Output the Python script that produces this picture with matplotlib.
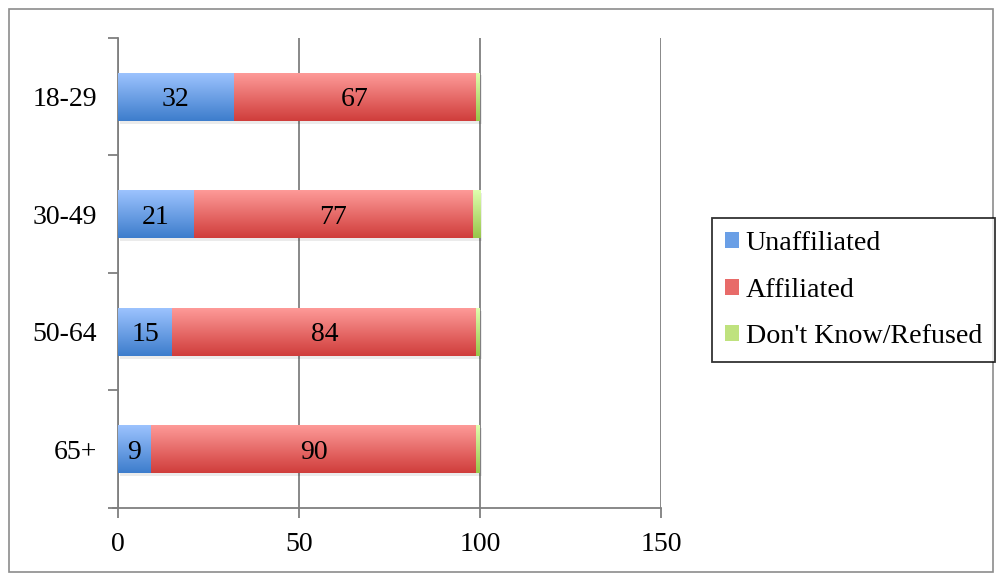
import numpy as np
import matplotlib.pyplot as plt
from matplotlib.patches import Rectangle, Patch
from matplotlib.colors import LinearSegmentedColormap

plt.rcParams['font.family'] = ['Liberation Serif', 'DejaVu Serif']

# data
ages = ['65+', '50-64', '30-49', '18-29']
unaffiliated = [9, 15, 21, 32]
affiliated = [90, 84, 77, 67]
dont_know = [1, 1, 2, 1]
series_names = ['Unaffiliated', 'Affiliated', "Don't Know/Refused"]

# gradient colours (top, bottom)
grads = [('#9ec4ff', '#3d7dcc'), ('#ff9c9a', '#cf3d3b'), ('#e0ffb0', '#98c64a')]
mids = ['#6a9fe6', '#e86b69', '#bfe27e']
fs = 20

fig = plt.figure(figsize=(10.01, 5.74), dpi=100)
ax = fig.add_axes([0.1179, 0.115, 0.5424, 0.819])

# outer frame
fig.patches.append(Rectangle((9/1001, 2/574), 984/1001, 563/574, transform=fig.transFigure,
                             fill=False, edgecolor='#8c8c8c', lw=1.2))

y = np.arange(len(ages))
h = 0.41
left = np.zeros(len(ages))
for vals, (ctop, cbot) in zip([unaffiliated, affiliated, dont_know], grads):
    cmap = LinearSegmentedColormap.from_list('g', [cbot, ctop])
    bars = ax.barh(y, vals, height=h, left=left, color='none', edgecolor='none', zorder=3)
    for b in bars:
        x0, y0 = b.get_x(), b.get_y()
        w, hh = b.get_width(), b.get_height()
        grad = np.linspace(0, 1, 100).reshape(-1, 1)
        im = ax.imshow(grad, cmap=cmap, origin='lower', aspect='auto',
                       extent=(x0, x0 + w, y0, y0 + hh), zorder=3)
        im.set_clip_path(b)
    left = left + np.array(vals)

# shadow
for yi, tot in zip(y, left):
    ax.add_patch(Rectangle((0.6, yi - h/2 - 0.025), tot, h, facecolor='#000000',
                           alpha=0.08, edgecolor='none', zorder=2))

# value labels
for yi, u, a in zip(y, unaffiliated, affiliated):
    ax.text(u/2, yi, str(u), ha='center', va='center_baseline', fontsize=fs, zorder=5)
    ax.text(u + a/2, yi, str(a), ha='center', va='center_baseline', fontsize=fs, zorder=5)

ax.set_xlim(0, 150)
ax.set_ylim(-0.5, 3.5)
ax.set_xticks([0, 50, 100, 150])
ax.set_xticklabels(['0', '50', '100', '150'], fontsize=fs)
ax.set_yticks([-0.5, 0.5, 1.5, 2.5, 3.5])
ax.set_yticklabels([])
ax.set_yticks(y, minor=True)
ax.set_yticklabels(ages, minor=True, fontsize=fs)
ax.tick_params(axis='y', which='minor', length=0, pad=15)
ax.tick_params(axis='y', which='major', length=7, color='#7f7f7f', width=1.3)
ax.tick_params(axis='x', length=7, color='#7f7f7f', width=1.3, pad=10)
ax.xaxis.grid(True, color='#7f7f7f', lw=1.3, zorder=0)
ax.set_axisbelow(True)
for s in ['top', 'right']:
    ax.spines[s].set_visible(False)
for s in ['left', 'bottom']:
    ax.spines[s].set_color('#7f7f7f')
    ax.spines[s].set_linewidth(1.3)
ax.spines['bottom'].set_bounds(-1.5, 150)

handles = [Patch(facecolor=c, edgecolor='none') for c in mids]
leg = fig.legend(handles, series_names, loc='upper left', bbox_to_anchor=(712/1001, 1 - 218/574),
                 fontsize=20.2, frameon=True, fancybox=False, handlelength=0.5, handleheight=0.5,
                 handletextpad=0.25, labelspacing=0.78, borderpad=0.45, borderaxespad=0)
leg.get_frame().set_edgecolor('black')
leg.get_frame().set_linewidth(1.3)

fig.savefig('out.png', dpi=100)
